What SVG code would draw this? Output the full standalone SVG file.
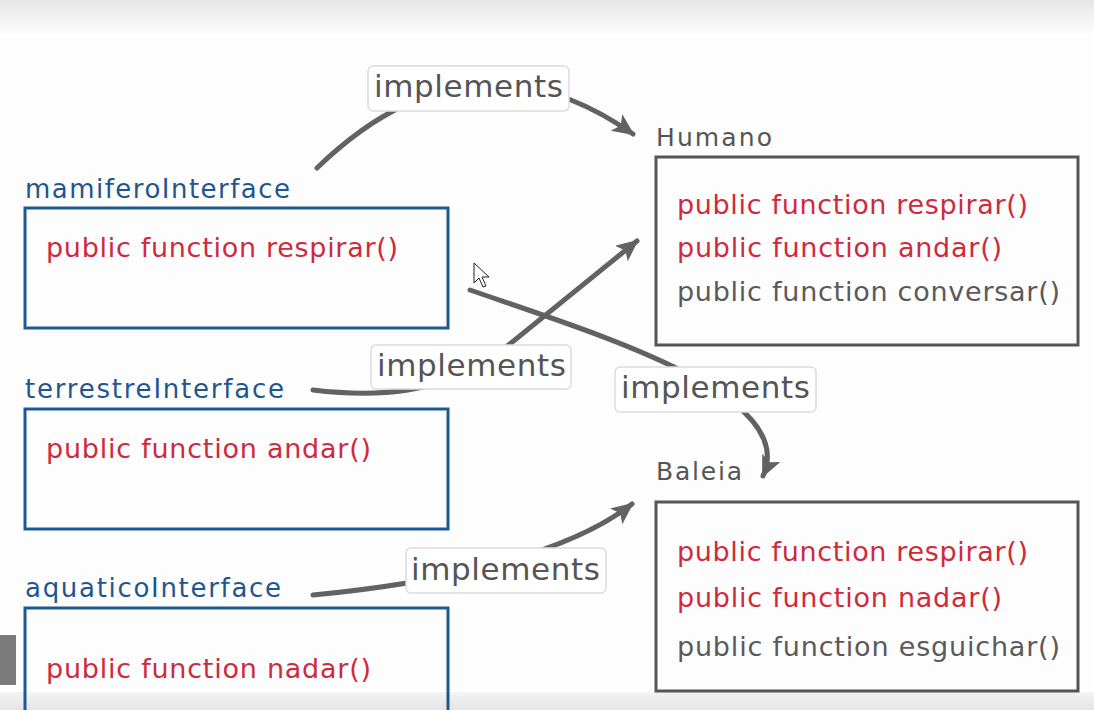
<svg xmlns="http://www.w3.org/2000/svg" width="1094" height="710" viewBox="0 0 1094 710">
<style>
.iface{fill:none;stroke:#1c5a96;stroke-width:3}
.cls{fill:none;stroke:#555;stroke-width:3}
.ttl-b{font-family:"DejaVu Sans",sans-serif;font-size:26px;fill:#1f5690}
.ttl-g{font-family:"DejaVu Sans",sans-serif;font-size:25px;fill:#555}
.m{font-family:"DejaVu Sans",sans-serif;font-size:27px}
.red{fill:#cf2a3c}
.gry{fill:#5a5a5a}
.conn{fill:none;stroke:#626262;stroke-width:5;stroke-linecap:round}
.lblbox{fill:#fff;stroke:#dcdcdc;stroke-width:1.5}
.lbl{font-family:"DejaVu Sans",sans-serif;font-size:31px;fill:#555}
</style>
<defs>
<linearGradient id="topg" x1="0" y1="0" x2="0" y2="1">
<stop offset="0" stop-color="#e6e6e6"/>
<stop offset="1" stop-color="#ffffff"/>
</linearGradient>
<linearGradient id="botg" x1="0" y1="0" x2="0" y2="1">
<stop offset="0" stop-color="#f4f4f4"/>
<stop offset="1" stop-color="#e4e4e4"/>
</linearGradient>
<marker id="ah" markerUnits="userSpaceOnUse" markerWidth="24" markerHeight="22" refX="20" refY="10" orient="auto">
<path d="M0,0 L22,10 L0,20 L5,10 Z" fill="#626262"/>
</marker>
</defs>
<rect x="0" y="0" width="1094" height="710" fill="#fdfdfd"/>
<rect x="0" y="0" width="1094" height="38" fill="url(#topg)"/>
<rect x="0" y="692" width="1094" height="18" fill="url(#botg)"/>
<rect x="0" y="635" width="16" height="50" fill="#7a7a7a"/>

<g id="connectors">
<path class="conn" d="M317,168 Q470,20 633,134" marker-end="url(#ah)"/>
<path class="conn" d="M313,390 C380,398 440,392 490,360 L637,241" marker-end="url(#ah)"/>
<path class="conn" d="M470,290 C600,335 800,395 763,476" marker-end="url(#ah)"/>
<path class="conn" d="M313,595 C420,585 560,560 632,504" marker-end="url(#ah)"/>
</g>

<g id="mamiferoInterface">
<text class="ttl-b" x="25" y="198" textLength="265" lengthAdjust="spacing">mamiferoInterface</text>
<rect class="iface" x="25" y="208" width="423" height="120"/>
<text class="m red" x="46" y="257" textLength="352" lengthAdjust="spacing">public function respirar()</text>
</g>

<g id="terrestreInterface">
<text class="ttl-b" x="25" y="398" textLength="259" lengthAdjust="spacing">terrestreInterface</text>
<rect class="iface" x="25" y="409" width="423" height="120"/>
<text class="m red" x="46" y="458" textLength="325" lengthAdjust="spacing">public function andar()</text>
</g>

<g id="aquaticoInterface">
<text class="ttl-b" x="25" y="597" textLength="256" lengthAdjust="spacing">aquaticoInterface</text>
<rect class="iface" x="25" y="608" width="423" height="120"/>
<text class="m red" x="46" y="678" textLength="325" lengthAdjust="spacing">public function nadar()</text>
</g>

<g id="Humano">
<text class="ttl-g" x="656" y="146" textLength="116" lengthAdjust="spacing">Humano</text>
<rect class="cls" x="656" y="157" width="422" height="188"/>
<text class="m red" x="677" y="214" textLength="351" lengthAdjust="spacing">public function respirar()</text>
<text class="m red" x="677" y="257" textLength="325" lengthAdjust="spacing">public function andar()</text>
<text class="m gry" x="677" y="301" textLength="383" lengthAdjust="spacing">public function conversar()</text>
</g>

<g id="Baleia">
<text class="ttl-g" x="656" y="480" textLength="86" lengthAdjust="spacing">Baleia</text>
<rect class="cls" x="656" y="502" width="422" height="189"/>
<text class="m red" x="677" y="561" textLength="351" lengthAdjust="spacing">public function respirar()</text>
<text class="m red" x="677" y="607" textLength="325" lengthAdjust="spacing">public function nadar()</text>
<text class="m gry" x="677" y="656" textLength="383" lengthAdjust="spacing">public function esguichar()</text>
</g>

<g id="label1">
<rect class="lblbox" x="368" y="66" width="201" height="45" rx="5"/>
<text class="lbl" x="374" y="97" textLength="189" lengthAdjust="spacing">implements</text>
</g>
<g id="label2">
<rect class="lblbox" x="371" y="345" width="200" height="44" rx="5"/>
<text class="lbl" x="377" y="376" textLength="189" lengthAdjust="spacing">implements</text>
</g>
<g id="label3">
<rect class="lblbox" x="615" y="367" width="201" height="45" rx="5"/>
<text class="lbl" x="621" y="398" textLength="189" lengthAdjust="spacing">implements</text>
</g>
<g id="label4">
<rect class="lblbox" x="406" y="548" width="200" height="45" rx="5"/>
<text class="lbl" x="411" y="580" textLength="189" lengthAdjust="spacing">implements</text>
</g>

<path d="M474,263 L474,283 L479,278 L483,287 L486,286 L482,277 L489,277 Z" fill="#fff" stroke="#222" stroke-width="1"/>
</svg>
